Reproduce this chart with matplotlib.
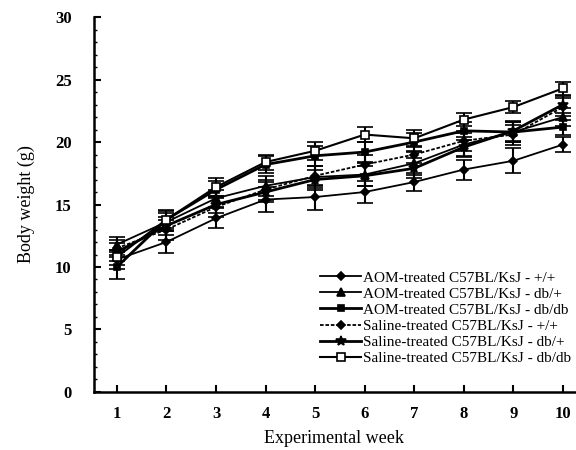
import matplotlib
matplotlib.use("Agg")
import matplotlib.pyplot as plt
from matplotlib.lines import Line2D
import numpy as np

weeks = [1, 2, 3, 4, 5, 6, 7, 8, 9, 10]

aom_wt = [10.6, 12.0, 13.9, 15.4, 15.6, 16.0, 16.8, 17.8, 18.5, 19.8]
aom_wt_err = [0.8, 0.9, 0.8, 1.0, 1.0, 0.9, 0.7, 0.8, 1.0, 0.6]
aom_dbp = [11.8, 13.6, 15.5, 16.5, 17.2, 17.4, 18.3, 19.8, 20.8, 22.0]
aom_dbp_err = [0.6, 0.7, 0.7, 0.8, 0.9, 0.9, 0.9, 0.9, 0.8, 0.7]
aom_dbdb = [10.0, 13.8, 16.2, 18.2, 18.9, 19.2, 20.0, 20.9, 20.8, 21.2]
aom_dbdb_err = [1.0, 0.8, 0.7, 0.7, 0.8, 0.8, 0.7, 0.7, 0.8, 0.6]
sal_wt = [11.5, 13.0, 14.8, 16.2, 17.3, 18.2, 19.0, 20.1, 20.6, 22.8]
sal_wt_err = [0.7, 0.8, 0.8, 0.8, 0.8, 0.8, 0.7, 0.8, 0.8, 0.7]
sal_dbp = [11.2, 13.3, 15.0, 16.0, 17.0, 17.3, 17.9, 19.6, 20.9, 23.0]
sal_dbp_err = [0.7, 0.7, 0.7, 0.8, 0.8, 0.8, 0.8, 0.8, 0.8, 0.7]
sal_dbdb = [10.8, 13.8, 16.4, 18.4, 19.3, 20.6, 20.3, 21.8, 22.8, 24.3]
sal_dbdb_err = [0.6, 0.7, 0.7, 0.6, 0.7, 0.6, 0.7, 0.5, 0.5, 0.5]

labels = [
    "AOM-treated C57BL/KsJ - +/+",
    "AOM-treated C57BL/KsJ - db/+",
    "AOM-treated C57BL/KsJ - db/db",
    "Saline-treated C57BL/KsJ - +/+",
    "Saline-treated C57BL/KsJ - db/+",
    "Saline-treated C57BL/KsJ - db/db",
]

plt.rcParams['font.family'] = ['Liberation Serif', 'DejaVu Serif']

fig = plt.figure(figsize=(5.76, 4.5), dpi=100)
ax = fig.add_axes([0.163, 0.129, 0.835, 0.833])

series = [
    (aom_wt, aom_wt_err, dict(marker='D', ms=4, mfc='black', ls='-', lw=1.3)),
    (aom_dbp, aom_dbp_err, dict(marker='^', ms=6, mfc='black', ls='-', lw=1.3)),
    (aom_dbdb, aom_dbdb_err, dict(marker='s', ms=5, mfc='black', ls='-', lw=2.0)),
    (sal_wt, sal_wt_err, dict(marker='D', ms=4, mfc='black', ls=(0, (2, 1)), lw=1.3)),
    (sal_dbp, sal_dbp_err, dict(marker='*', ms=7, mfc='black', ls='-', lw=2.0)),
    (sal_dbdb, sal_dbdb_err, dict(marker='s', ms=6, mfc='white', ls='-', lw=1.5)),
]
handles = []
for (vals, err, st), lab in zip(series, labels):
    ax.errorbar(weeks, vals, yerr=err, color='black', mec='black', mew=1.2,
                elinewidth=1.5, capsize=6, capthick=2.0, **st)
    handles.append(Line2D([], [], color='black', mec='black', mew=1.2, label=lab, **st))

ax.set_xlim(0.536, 10.24)
ax.set_ylim(0, 30)
ax.set_xticks(weeks)
ax.set_yticks([0, 5, 10, 15, 20, 25, 30])
ax.set_yticks(np.arange(0, 31, 1), minor=True)
ax.tick_params(axis='both', which='major', direction='in', length=5, width=1.5,
               labelsize=12)
ax.tick_params(axis='y', which='minor', direction='in', length=2, width=1)
for lab in ax.get_xticklabels() + ax.get_yticklabels():
    lab.set_fontweight('bold')
ax.tick_params(axis='x', pad=10)
ax.tick_params(axis='y', pad=16)
ax.spines['top'].set_visible(False)
ax.spines['right'].set_visible(False)
ax.spines['left'].set_linewidth(1.8)
ax.spines['bottom'].set_linewidth(1.8)

ax.set_xlabel("Experimental week", fontsize=13, labelpad=6)
ax.set_ylabel("Body weight (g)", fontsize=13, labelpad=14)

ax.legend(handles=handles, loc='lower right', bbox_to_anchor=(1.005, 0.055),
          frameon=False, fontsize=11, handlelength=2.7, handletextpad=0.1,
          labelspacing=0.16, borderaxespad=0.0)

fig.savefig("out.png", dpi=100)
